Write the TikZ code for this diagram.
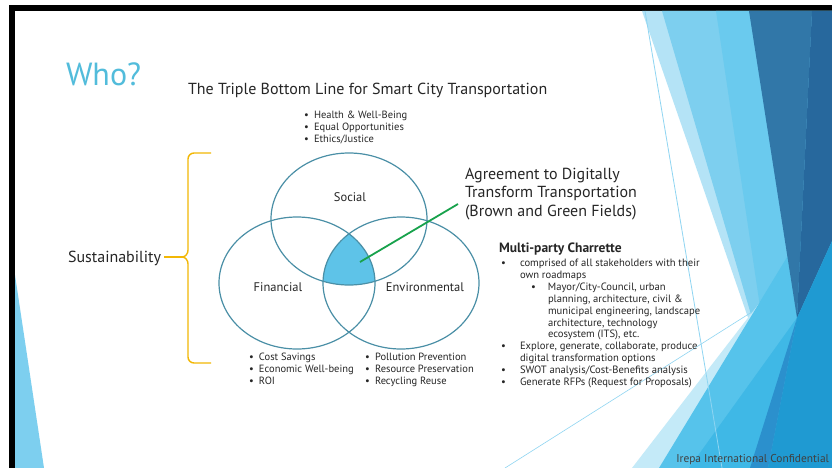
\documentclass[tikz,border=0pt]{standalone}
\usepackage{fontspec}
\setmainfont{PT Sans}
\usetikzlibrary{shapes.geometric}

\definecolor{ink}{HTML}{262626}
\definecolor{whocol}{HTML}{52BCDB}
\definecolor{ringcol}{HTML}{4A8FA6}
\definecolor{corecol}{HTML}{5EC3E8}
\definecolor{leafgreen}{HTML}{18A24C}
\definecolor{bracecol}{HTML}{F2B705}
% facet palette, light to dark
\definecolor{facetPale}{HTML}{B4E3F6}
\definecolor{facetA}{HTML}{7DCFEF}
\definecolor{facetH}{HTML}{6ACAEE}
\definecolor{facetLow}{HTML}{C4EAF8}
\definecolor{facetC}{HTML}{56C3EB}
\definecolor{facetD}{HTML}{3FB8E6}
\definecolor{facetBand}{HTML}{2B90CD}
\definecolor{facetE}{HTML}{1F9AD2}
\definecolor{facetF}{HTML}{3177A8}
\definecolor{facetG}{HTML}{27689D}
\definecolor{facetLine}{HTML}{8FD5F2}

\newcommand{\bl}{\makebox[10pt][l]{•}}

\begin{document}
\begin{tikzpicture}[x=1pt,y=-1pt,
  every node/.style={inner sep=0pt, outer sep=0pt, text=ink},
  ring/.style={ellipse, draw=ringcol, line width=1.2pt, minimum width=156pt, minimum height=132pt},
  ringlabel/.style={font=\fontsize{12.5}{14}\selectfont, anchor=base},
  smalllist/.style={font=\fontsize{10.5}{12}\selectfont, align=left, anchor=north west},
  facetline/.style={draw=facetLine, line width=0.8pt}]

\useasboundingbox (0,0) rectangle (832,468);
\fill[white] (0,0) rectangle (832,468);

% slide frame
\fill[black] (9,5) rectangle (832,11);
\fill[black] (9,5) rectangle (15,468);

% facet decoration: light facets slanting down to the right
\fill[facetPale] (642,11) -- (832,11) -- (832,468) -- (800,468) -- cycle;
\fill[facetA] (662,11) -- (832,11) -- (832,468) -- (796,468) -- cycle;
\fill[facetH] (716,11) -- (832,11) -- (832,468) -- (784,468) -- cycle;
% facets rising from the bottom edge
\fill[facetLow] (632,468) -- (832,209) -- (832,468) -- cycle;
\fill[facetC] (659,468) -- (832,183) -- (832,468) -- cycle;
\fill[facetD] (689,468) -- (832,269) -- (832,468) -- cycle;
% dark facets at the top right
\fill[facetF] (749,11) -- (812,11) -- (797,318) -- cycle;
\fill[facetG] (812,11) -- (832,11) -- (832,241) -- (797,318) -- cycle;
\fill[facetE] (768,468) -- (797,318) -- (832,241) -- (832,468) -- cycle;
\fill[facetBand] (797,318) -- (750,468) -- (768,468) -- cycle;
\draw[facetline] (645,11) -- (722,468);
\draw[facetline, line width=0.6pt] (505,468) -- (755,310);
% facet sliver, lower left
\fill[facetA] (15,275) -- (44,468) -- (15,468) -- cycle;

% heading
\node[anchor=base west, text=whocol, font=\fontsize{32}{32}\selectfont] (who) at (66,86) {Who?};
\node[anchor=base west, font=\fontsize{16}{18}\selectfont] (title) at (188,95) {The Triple Bottom Line for Smart City Transportation};

% shared core of the three circles
\begin{scope}
  \clip (349,219) ellipse [x radius=78pt, y radius=66pt];
  \clip (297,283) ellipse [x radius=78pt, y radius=66pt];
  \fill[corecol] (401,283) ellipse [x radius=78pt, y radius=66pt];
\end{scope}

\node[ring] (social) at (349,219) {};
\node[ring] (financial) at (297,283) {};
\node[ring] (environmental) at (401,283) {};

\node[ringlabel] (sociallbl) at (350,201) {Social};
\node[ringlabel] (financiallbl) at (278,291) {Financial};
\node[ringlabel] (envlbl) at (425,291) {Environmental};

% bullet lists around the circles
\node[smalllist] (sociallist) at (304,111) {\bl Health \& Well-Being\\ \bl Equal Opportunities\\ \bl Ethics/Justice};
\node[smalllist] (finlist) at (249,353) {\bl Cost Savings\\ \bl Economic Well-being\\ \bl ROI};
\node[smalllist] (envlist) at (365,353) {\bl Pollution Prevention\\ \bl Resource Preservation\\ \bl Recycling Reuse};

% agreement callout
\node[anchor=north west, align=left, font=\fontsize{16}{18.5}\selectfont] (agree) at (465,168)
  {Agreement to Digitally\\ Transform Transportation\\ (Brown and Green Fields)};
\coordinate (corept) at (360,262);
\coordinate (agreept) at (458,204);
\draw[leafgreen, line width=1.8pt] (corept) -- (agreept);

% sustainability brace
\node[anchor=base east, font=\fontsize{16}{18}\selectfont] (sust) at (161,262) {Sustainability};
\coordinate (bracetip) at (182,257);
\draw[bracecol, line width=1.4pt] (211,153) -- (194,153) to[out=180,in=90] (188,159) -- (188,250)
  to[out=-90,in=0] (bracetip) to[out=0,in=90] (188,264) -- (188,357) to[out=-90,in=180] (194,363) -- (211,363);
\draw[bracecol, line width=1.4pt, shorten <=3pt] (sust.east |- bracetip) -- (bracetip);

% charrette
\node[anchor=base west, font=\bfseries\fontsize{13.5}{15}\selectfont] (charrette) at (499,252) {Multi-party Charrette};
\node[anchor=north west, align=left, font=\fontsize{10.6}{11.9}\selectfont] (charlist) at (501,259)
  {\makebox[19pt][l]{•}comprised of all stakeholders with their\\
   \hspace*{19pt}own roadmaps\\
   \hspace*{30pt}\makebox[17pt][l]{•}Mayor/City-Council, urban\\
   \hspace*{47pt}planning, architecture, civil \&\\
   \hspace*{47pt}municipal engineering, landscape\\
   \hspace*{47pt}architecture, technology\\
   \hspace*{47pt}ecosystem (ITS), etc.\\
   \makebox[19pt][l]{•}Explore, generate, collaborate, produce\\
   \hspace*{19pt}digital transformation options\\
   \makebox[19pt][l]{•}SWOT analysis/Cost-Benefits analysis\\
   \makebox[19pt][l]{•}Generate RFPs (Request for Proposals)};

\node[anchor=base east, text=black!75, font=\fontsize{11.4}{12}\selectfont] (footer) at (829,462) {Irepa International Confidential};
\end{tikzpicture}
\end{document}
